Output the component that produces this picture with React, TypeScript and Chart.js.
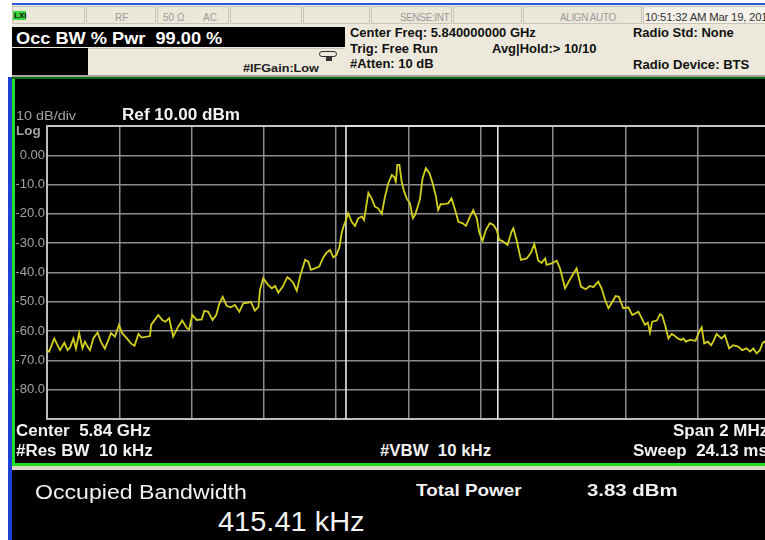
import React, { useEffect, useRef } from "react";
import { Chart, registerables } from "chart.js";

Chart.register(...registerables);

// ---- Data ----
const freqKHz = [
  -1000, -994, -980, -964, -952, -943, -936, -927, -920, -911, -902, -895, -888, -881, -872, -860, -851, -840, -830, -823,
  -812, -801, -792, -779, -768, -758, -747, -738, -715, -712, -692, -681, -672, -662, -651, -637, -626, -613, -607, -598,
  -586, -572, -565, -554, -542, -532, -523, -514, -503, -492, -480, -468, -457, -443, -436, -425, -415, -411, -402, -388,
  -378, -369, -360, -348, -335, -328, -319, -309, -300, -286, -277, -270, -259, -247, -237, -228, -217, -208, -199, -191,
  -185, -180, -173, -167, -157, -148, -139, -129, -123, -111, -102, -93, -84, -74, -65, -56, -46, -40, -35, -31,
  -25, -19, -12, -5, 4, 12, 18, 27, 32, 39, 48, 58, 67, 76, 82, 89, 101, 110, 119, 129,
  138, 150, 159, 170, 179, 189, 196, 205, 214, 225, 235, 244, 251, 259, 274, 285, 290, 299, 311, 327,
  339, 348, 359, 368, 378, 382, 396, 410, 419, 433, 447, 465, 477, 490, 502, 511, 525, 534, 544, 553,
  564, 573, 582, 594, 608, 619, 636, 645, 654, 662, 668, 674, 687, 696, 702, 711, 719, 728, 737, 745,
  754, 760, 767, 779, 794, 804, 811, 818, 828, 837, 843, 852, 866, 875, 887, 898, 912, 923, 935, 945,
  954, 963, 972, 979, 984, 1000,
];

const levelDbm = [
  -66.5, -67, -62.5, -66.5, -64, -66.5, -65.5, -62.5, -66, -60.7, -65.9, -63.6, -65.3, -66.5, -62.5, -60.5, -63.6, -66, -63, -60.7,
  -61.9, -57.9, -60.7, -62.5, -64.2, -65, -61, -62.2, -61.7, -57.9, -54.5, -56.2, -56.8, -55.6, -61.9, -58.5, -56.4, -59, -59.4, -54.5,
  -56.2, -56, -53.1, -53.4, -56.2, -54.5, -50.5, -48.3, -51.4, -51.9, -51.1, -53.4, -50.5, -50.3, -50, -53, -51.7, -46, -42, -44.3,
  -45.4, -44.6, -46.9, -44.8, -41.6, -42.3, -43.5, -46.2, -41.4, -35.7, -36.3, -39.1, -38.6, -38, -35.2, -33.4, -32.3, -34.8, -34, -31.2,
  -26.6, -24.4, -22.1, -19.8, -22.7, -24.1, -21.5, -20.9, -22.1, -12.8, -14.7, -17.5, -18.1, -20, -14.1, -9.6, -6.7, -7.3, -9, -3.3,
  -3.3, -9, -12.4, -14.7, -16.4, -21.5, -20.4, -17, -14.7, -7.8, -4.4, -6.1, -9.6, -14.1, -18.7, -16.7, -16.6, -16.4, -14.7, -18.7,
  -22.7, -23.2, -24.1, -20.9, -18.7, -21.5, -26.4, -29.2, -25.5, -23.2, -23.8, -25.5, -28.9, -29.2, -30.6, -26.1, -24.9, -28.9, -35.7, -35.2,
  -33.2, -30.3, -36, -36.7, -35.2, -37.4, -36.9, -36, -38.6, -45.4, -42.3, -38.6, -44.8, -45.7, -44.6, -45, -43.1, -45.4, -49.4, -52.2,
  -50, -48, -48.3, -52.2, -51.9, -54.5, -53.4, -55.6, -57.9, -57.1, -60.5, -56.8, -56.4, -54.2, -54.8, -58.5, -62.5, -61, -61.7, -62.5,
  -63, -62.5, -63.6, -63, -63.3, -60.2, -58.7, -64.2, -63.6, -64.8, -63.6, -61, -62.5, -61.4, -65.9, -64.8, -65.3, -66.5, -65.9, -67,
  -65.9, -67.6, -66.5, -64.2, -63.6, -65,
];

const yTickValues = [10, 0, -10, -20, -30, -40, -50, -60, -70, -80, -90];
const yTickLabels = ["", "0.00", "-10.0", "-20.0", "-30.0", "-40.0", "-50.0", "-60.0", "-70.0", "-80.0", ""];
const refLevel = 10;
const bottomLevel = -90;
const spanStartKHz = -1000;
const spanEndKHz = 1000;
const xDivKHz = 200;
const obwEdgesKHz = [-173, 247];

const FONT = '"Liberation Sans", Arial, sans-serif';

type TP = {
  x: number;
  b: number;
  size: number;
  weight?: number | string;
  color?: string;
  children: React.ReactNode;
  spacing?: number;
  sx?: number;
};

function T({ x, b, size, weight = "normal", color = "#fff", children, spacing = 0, sx = 1 }: TP) {
  return (
    <div
      style={{
        position: "absolute",
        left: x,
        top: b - 0.847 * size,
        fontSize: size,
        lineHeight: `${size}px`,
        fontWeight: weight as any,
        color,
        whiteSpace: "pre",
        fontFamily: FONT,
        letterSpacing: spacing,
        transform: sx !== 1 ? `scaleX(${sx})` : undefined,
        transformOrigin: "left center",
      }}
    >
      {children}
    </div>
  );
}

function Box({ l, t, w, h, bg, extra }: { l: number; t: number; w: number; h: number; bg: string; extra?: React.CSSProperties }) {
  return <div style={{ position: "absolute", left: l, top: t, width: w, height: h, background: bg, ...extra }} />;
}

function SpectrumChart() {
  const ref = useRef<HTMLCanvasElement | null>(null);
  useEffect(() => {
    if (!ref.current) return;
    const trace = freqKHz.map((f, i) => ({ x: f, y: levelDbm[i] }));
    const obw = [
      { x: obwEdgesKHz[0], y: bottomLevel },
      { x: obwEdgesKHz[0], y: refLevel },
      { x: obwEdgesKHz[1], y: refLevel },
      { x: obwEdgesKHz[1], y: bottomLevel },
    ];
    const chart = new Chart(ref.current, {
      type: "line",
      data: {
        datasets: [
          {
            data: trace,
            borderColor: "#d2d01c",
            borderWidth: 1.8,
            pointRadius: 0,
            tension: 0,
          },
          {
            data: obw,
            borderColor: "#e6e6e6",
            borderWidth: 1.6,
            pointRadius: 0,
            tension: 0,
            clip: 4,
          },
        ],
      },
      options: {
        animation: false,
        responsive: false,
        devicePixelRatio: 1,
        layout: { padding: { left: 2, right: 3, top: 46, bottom: 20 } },
        plugins: { legend: { display: false }, tooltip: { enabled: false } },
        events: [],
        scales: {
          x: {
            type: "linear",
            min: spanStartKHz,
            max: spanEndKHz,
            ticks: { display: false, stepSize: xDivKHz },
            grid: { color: "#8c8c8c", lineWidth: 1.5, drawTicks: false },
            border: { display: true, color: "#bdbdbd", width: 2 },
            afterFit: (s: any) => {
              s.height = 0;
            },
          },
          y: {
            type: "linear",
            min: bottomLevel,
            max: refLevel,
            afterBuildTicks: (s: any) => {
              s.ticks = yTickValues.map((v) => ({ value: v }));
            },
            ticks: {
              padding: 2,
              color: "#a3a3a3",
              font: { family: FONT, size: 13 },
              callback: (v: any) => {
                const i = yTickValues.indexOf(Number(v));
                return i >= 0 ? yTickLabels[i] : "";
              },
            },
            grid: {
              drawTicks: false,
              color: (c: any) => (c.tick && c.tick.value === refLevel ? "#c4c4c4" : "#8c8c8c"),
              lineWidth: (c: any) => (c.tick && c.tick.value === refLevel ? 2 : 1.5),
            },
            border: { display: true, color: "#bdbdbd", width: 2 },
            afterFit: (s: any) => {
              s.width = 32;
            },
          },
        },
      },
    } as any);
    return () => chart.destroy();
  }, []);
  return (
    <div style={{ position: "absolute", left: 13, top: 80, width: 760, height: 359 }}>
      <canvas ref={ref} width={760} height={359} style={{ width: 760, height: 359, display: "block" }} />
    </div>
  );
}

export default function App() {
  useEffect(() => {
    document.body.style.margin = "0";
  }, []);
  const beige = "#ece9dc";
  const cellBorder = "1px solid #c9c5b6";
  const cells = [
    [12, 86],
    [86, 157],
    [157, 230],
    [230, 303],
    [303, 371],
    [371, 453],
    [453, 523],
    [523, 643],
    [643, 768],
  ];
  return (
    <div
      style={{
        position: "fixed",
        left: 0,
        top: 0,
        width: 765,
        height: 540,
        overflow: "hidden",
        background: "#ffffff",
        fontFamily: FONT,
      }}
    >
      {/* top blue line */}
      <Box l={12} t={3} w={760} h={2} bg="#2a5ad6" />
      {/* header beige */}
      <Box l={12} t={5} w={760} h={72} bg={beige} />
      {/* status cells */}
      {cells.map(([a, b], i) => (
        <Box
          key={i}
          l={a}
          t={6}
          w={b - a - 1}
          h={18}
          bg={i === 8 ? "#f4f2ea" : "#ebe8da"}
          extra={{ border: cellBorder, boxSizing: "border-box" }}
        />
      ))}
      <Box l={13} t={11} w={13} h={9} bg="#3cd23c" />
      <T x={14} b={19} size={8} weight="bold" color="#111">
        LXI
      </T>
      <T x={115} b={21} size={10} color="#9a9a9a">
        RF
      </T>
      <T x={163} b={21} size={10} color="#9a9a9a">
        50 Ω
      </T>
      <T x={203} b={21} size={10} color="#9a9a9a">
        AC
      </T>
      <T x={400} b={21} size={10} color="#9a9a9a" spacing={-0.4}>
        SENSE:INT
      </T>
      <T x={560} b={21} size={10} color="#9a9a9a" spacing={-0.4}>
        ALIGN AUTO
      </T>
      <T x={645} b={21} size={10.5} color="#333" spacing={-0.2} sx={1.08}>
        10:51:32 AM Mar 19, 201
      </T>

      {/* Occ BW box */}
      <Box l={12} t={27} w={333} h={20} bg="#000" />
      <T x={16} b={44} size={17} weight="bold" color="#fff" sx={1.07}>
        Occ BW % Pwr  99.00 %
      </T>
      <Box l={12} t={48} w={76} h={29} bg="#000" />
      <Box l={88} t={48} w={257} h={1} bg="#c9c5b6" />
      <T x={243} b={72} size={11} weight="bold" color="#222" sx={1.15}>
        #IFGain:Low
      </T>
      <Box
        l={319}
        t={51}
        w={18}
        h={6}
        bg="transparent"
        extra={{ border: "1.5px solid #333", borderRadius: 3, boxSizing: "border-box" }}
      />
      <Box l={326} t={57} w={6} h={4} bg="#333" />

      <T x={350} b={37.5} size={12} weight="bold" color="#111" sx={1.08}>
        Center Freq: 5.840000000 GHz
      </T>
      <T x={350} b={53} size={12} weight="bold" color="#111" sx={1.08}>
        Trig: Free Run
      </T>
      <T x={492} b={53} size={12} weight="bold" color="#111" sx={1.08}>
        Avg|Hold:&gt; 10/10
      </T>
      <T x={350} b={68} size={12} weight="bold" color="#111" sx={1.08}>
        #Atten: 10 dB
      </T>
      <T x={633} b={37.5} size={12} weight="bold" color="#111" sx={1.08}>
        Radio Std: None
      </T>
      <T x={633} b={69} size={12} weight="bold" color="#111" sx={1.09}>
        Radio Device: BTS
      </T>

      {/* header bottom separator */}
      <Box l={12} t={75} w={760} h={2} bg="#a8a59a" />
      <Box l={12} t={77} w={760} h={2} bg="#0e6a12" />

      {/* left blue strip */}
      <Box l={8} t={77} w={4} h={470} bg="#1c43d4" />

      {/* display area */}
      <Box l={12} t={79} w={760} h={387} bg="#000" />
      <SpectrumChart />
      <Box l={12} t={79} w={3} h={387} bg="#20e020" />
      <Box l={12} t={463} w={760} h={3} bg="#20e020" />
      <Box l={12} t={466} w={760} h={4} bg="#dcd8ca" />

      <T x={16} b={120} size={12} color="#a3a3a3" sx={1.2}>
        10 dB/div
      </T>
      <T x={122} b={121} size={16} weight="bold" color="#f2f2f2" sx={1.07}>
        Ref 10.00 dBm
      </T>
      <T x={16} b={135} size={12} weight="bold" color="#a3a3a3" sx={1.12}>
        Log
      </T>

      <T x={16} b={437} size={16} weight="bold" color="#f2f2f2" sx={1.06}>
        Center  5.84 GHz
      </T>
      <T x={16} b={457} size={16} weight="bold" color="#f2f2f2" sx={1.06}>
        #Res BW  10 kHz
      </T>
      <T x={380} b={457} size={16} weight="bold" color="#f2f2f2" sx={1.05}>
        #VBW  10 kHz
      </T>
      <T x={673} b={437} size={16} weight="bold" color="#f2f2f2" sx={1.06}>
        Span 2 MHz
      </T>
      <T x={633} b={457} size={16} weight="bold" color="#f2f2f2" sx={1.06}>
        Sweep  24.13 ms
      </T>

      {/* lower results panel */}
      <Box l={12} t={470} w={760} h={70} bg="#000" />
      <T x={35} b={499} size={21} color="#f2f2f2" sx={1.1}>
        Occupied Bandwidth
      </T>
      <T x={218} b={532} size={28} color="#f2f2f2" sx={1.035}>
        415.41 kHz
      </T>
      <T x={416} b={496} size={17} weight="bold" color="#f2f2f2" sx={1.11}>
        Total Power
      </T>
      <T x={587} b={496} size={17} weight="bold" color="#f2f2f2" sx={1.2}>
        3.83 dBm
      </T>
    </div>
  );
}
